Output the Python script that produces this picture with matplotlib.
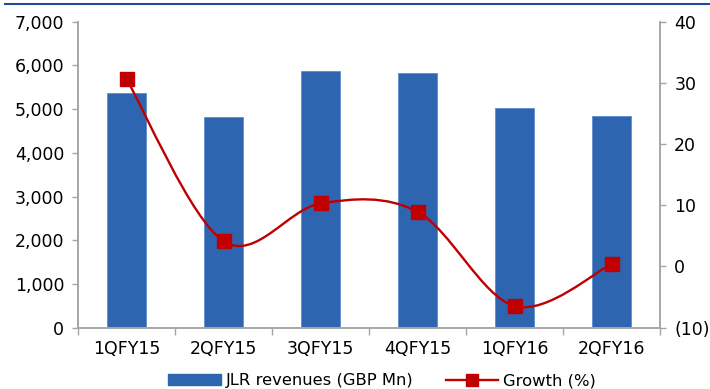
import matplotlib
matplotlib.use("Agg")
import matplotlib.pyplot as plt
from matplotlib.path import Path
from matplotlib.patches import PathPatch
from matplotlib.lines import Line2D
from matplotlib.patches import Patch
from matplotlib.ticker import FuncFormatter

plt.rcParams['font.family'] = ['DejaVu Sans']

quarters = ['1QFY15', '2QFY15', '3QFY15', '4QFY15', '1QFY16', '2QFY16']
revenues = [5359, 4810, 5876, 5824, 5023, 4840]
growth = [30.6, 4.1, 10.3, 8.9, -6.5, 0.4]

bar_color = '#2E65B0'
line_color = '#C00000'
axis_grey = '#A6A6A6'

fig = plt.figure(figsize=(7.10, 3.89), dpi=100)
ax = fig.add_axes([0.110, 0.158, 0.820, 0.786])
ax2 = ax.twinx()

x = list(range(len(quarters)))
ax.bar(x, revenues, width=0.4, color=bar_color, edgecolor='#5F8DCF', linewidth=0.6, zorder=2)
ax.set_xlim(-0.5, len(quarters) - 0.5)
ax.set_ylim(0, 7000)
ax.set_yticks(range(0, 7001, 1000))
ax.yaxis.set_major_formatter(FuncFormatter(lambda v, p: f'{int(v):,}'))
ax.set_xticks(x)
ax.set_xticklabels(quarters)
ax.set_xticks([i - 0.5 for i in range(len(quarters) + 1)], minor=True)
ax.tick_params(axis='x', which='major', length=0, pad=9, labelsize=12.5)
ax.tick_params(axis='x', which='minor', length=5, color=axis_grey, width=1)
ax.tick_params(axis='y', length=4, color=axis_grey, width=1, labelsize=12.5, pad=6)

# smoothed growth line (Excel-style bezier through the points)
pts = list(zip(x, growth))
verts = [pts[0]]
codes = [Path.MOVETO]
for i in range(len(pts) - 1):
    p0 = pts[i - 1] if i > 0 else pts[i]
    p1 = pts[i]
    p2 = pts[i + 1]
    p3 = pts[i + 2] if i + 2 < len(pts) else pts[i + 1]
    c1 = (p1[0] + (p2[0] - p0[0]) / 6, p1[1] + (p2[1] - p0[1]) / 6)
    c2 = (p2[0] - (p3[0] - p1[0]) / 6, p2[1] - (p3[1] - p1[1]) / 6)
    verts += [c1, c2, p2]
    codes += [Path.CURVE4] * 3
ax2.add_patch(PathPatch(Path(verts, codes), facecolor='none', edgecolor=line_color, lw=1.7, zorder=3))
ax2.plot(x, growth, linestyle='none', marker='s', markersize=9.5, color=line_color, zorder=4)
ax2.set_ylim(-10, 40)
ax2.set_yticks(range(-10, 41, 10))
ax2.yaxis.set_major_formatter(FuncFormatter(lambda v, p: f'({abs(int(v))})' if v < 0 else f'{int(v)}'))
ax2.tick_params(axis='y', length=4, color=axis_grey, width=1, labelsize=12.5, pad=6)

for a in (ax, ax2):
    a.spines['top'].set_visible(False)
    for s in ('left', 'right', 'bottom'):
        a.spines[s].set_color(axis_grey)
        a.spines[s].set_linewidth(1.2)

handles = [Patch(facecolor=bar_color, edgecolor=bar_color),
           Line2D([0], [0], color=line_color, lw=1.7, marker='s', markersize=8)]
fig.legend(handles, ['JLR revenues (GBP Mn)', 'Growth (%)'], loc='center left',
           bbox_to_anchor=(0.216, 0.021), ncol=2, frameon=False, fontsize=11.8,
           handlelength=3.2, handleheight=0.6, columnspacing=2.0, handletextpad=0.3)

# blue rule at the top of the exhibit
fig.add_artist(Line2D([0.007, 1.0], [0.991, 0.991], color='#1F4E99', lw=1.5))

fig.savefig('out.png', dpi=100)
